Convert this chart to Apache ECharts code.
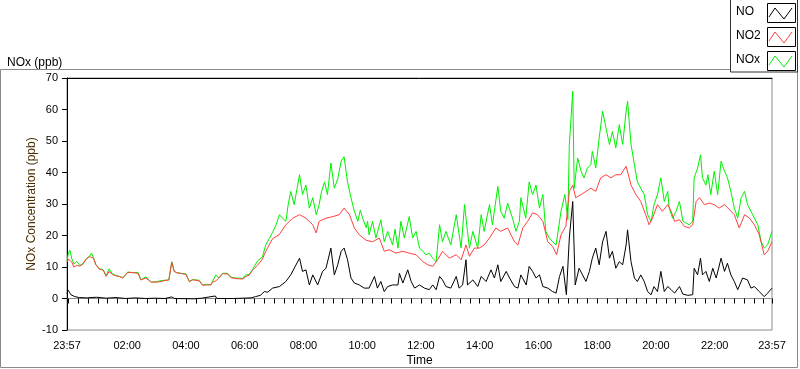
<!DOCTYPE html>
<html>
<head>
<meta charset="utf-8">
<script src="https://cdn.jsdelivr.net/npm/echarts@6/dist/echarts.min.js"></script>
<style>
html,body{margin:0;padding:0;background:#fff;}
#chart{width:800px;height:369px;}
</style>
</head>
<body>
<div id="chart"></div>
<script>
// Time is minutes elapsed since 23:57 (0 .. 1440)
const seriesNames = ['NO', 'NO2', 'NOx'];
const yTicks = [-10, 0, 10, 20, 30, 40, 50, 60, 70];
const xLabelMinutes = [0, 123, 243, 363, 483, 603, 723, 843, 963, 1083, 1203, 1323, 1440];

const noxT = [0,3,6,10,14,20,26,32,39,46,50,54,59,66,74,80,86,93,100,107,114,117,124,135,145,151,161,172,182,190,200,208,214,219,225,232,243,250,256,263,270,277,285,294,297,304,310,318,328,335,345,359,365,372,379,389,399,406,
413,420,427,434,440,447,452,457,464,470,475,481,488,495,502,509,515,520,526,532,539,546,553,560,566,573,580,587,594,599,604,611,
614,617,624,631,641,648,655,665,670,676,682,689,699,706,713,720,727,733,740,747,754,761,767,774,784,795,805,812,818,
822,829,839,846,852,863,869,880,886,893,900,910,917,924,927,937,944,951,958,965,972,978,985,992,999,1009,1017,1023,
1026,1033,1036,1043,1050,1056,1063,1070,1073,1080,1087,1094,1101,1108,1114,1121,1128,1135,1142,1145,1152,1159,1165,1172,1179,1186,1193,1199,1206,1213,1220,1227,
1230,1237,1244,1251,1258,1264,1271,1278,1281,1288,1294,1298,1305,1309,1315,1322,1329,1336,1343,1349,1356,1363,1370,1377,1384,1390,1397,1404,1411,1418,1424,1431,1440];
const noxV = [12,14.5,15.3,12.5,11,11.8,10.5,11,12.5,13.5,14.4,13,10.7,9.5,9.1,7.2,9.4,7.8,7.3,7,6.6,6.1,8.4,8.2,8.3,5.9,6.9,5.2,5.3,5.6,5.8,5.9,11.7,8.6,8.2,8,7.8,5.4,6,5.9,5.8,4.3,4.5,4.4,5.4,7.5,6.5,8,8,6.8,6.5,6.4,7.5,7.6,9.2,11.9,13.2,17,
19,21,23.4,26.6,25.5,24.5,30,34,29.8,35,39.3,33,36,28.7,32,26.6,29.8,34,37,33,43,35,38,43.6,45,37,32,27.7,24.5,28,25.5,22.5,
24.5,20.2,24.5,19.2,25,18,21.3,17,22,16,24.5,19.2,26,19.2,21.3,16,15,13.9,14.4,12.8,11.7,23.4,18,21.3,17,26.6,16,29.8,21.3,
16,21.3,16,26.6,21.3,29.8,23.4,35.6,27.7,25.5,30.3,25.5,21.3,24.5,32,25.5,37,33,36,28.7,33,21.3,19.2,18,17,27.7,33,25,
48.9,65.8,35,44.6,40.4,38.3,41.4,42.5,46.7,41.4,51,59.5,54,48.9,53,47.8,55.2,48.9,59.5,62.6,48.9,42.5,37,35,33,26.6,24.5,29.8,33,38.3,30.8,34,
28.7,25.5,27.7,30.8,24.5,24,23.4,24.5,38.3,41.4,45.6,38.3,36,39.3,33,40.4,33,43.6,40.4,38.3,34,28.7,25.5,32,34,29.8,27.7,25.5,23.4,18,16,17,21.3];

const no2T = [0,3,6,10,14,20,26,32,39,46,50,54,59,66,74,80,86,93,100,107,114,117,124,135,145,151,161,172,182,190,200,208,214,219,225,232,243,250,256,263,270,277,285,294,297,304,310,318,328,335,345,359,365,372,379,389,399,406,
420,433,447,461,475,488,502,509,515,529,543,556,566,577,587,597,611,
624,638,648,658,672,686,699,713,727,737,747,757,767,781,795,805,815,
822,832,842,852,863,876,886,900,914,921,931,941,951,961,972,982,992,1000,1009,1019,
1026,1033,1039,1050,1060,1070,1080,1090,1101,1111,1121,1131,1142,1152,1162,1172,1182,1189,1196,1206,1216,1227,
1234,1241,1251,1261,1271,1278,1285,1292,1302,1312,1322,1332,1343,1353,1363,1373,1384,1394,1404,1414,1424,1431,1440];
const no2V = [11.5,12.5,13,11.5,10,10.5,10.3,10.8,12.5,13.3,13.8,12.8,10.7,9.3,9,7,8.6,7.6,7.2,7,6.5,6.1,8.3,8.2,8,5.9,6.5,5.2,5.2,5.3,5.7,5.9,11.5,8.6,8.1,8,7.6,5.3,5.9,5.8,5.6,4.2,4.3,4.3,5.2,5.6,6.5,7.9,7.8,6.6,6.3,6.2,7,7.4,9,10.5,12.5,15,
19,20.2,23.4,25.5,26.6,25.5,23.4,20.8,24.5,25.5,26,26.6,28.7,26.6,22.4,20.2,18.5,
18,19.2,15,15.5,14.4,15,14.4,13.9,11.7,10.7,10.2,12.3,15,12.8,13.9,12.3,17,
13.4,16,16,17,19.2,22.4,21.3,22.4,18,17,22.4,24.5,27.2,26.6,24.5,18,16.5,13.9,20.2,23,
34,36,32,33,34,35,34,38.3,39.3,38.3,39.3,39.3,42,36,33,30.8,26.6,23.4,25.5,29.8,27.7,29.8,
27.7,24.5,25,22.9,22.4,23.4,30.8,32,29.8,30.3,29.8,28.7,29.8,28.2,26.6,22.4,26.6,25.5,23.4,20.2,13.9,15,18];

const noT = [0,2,5,8,12,16,25,40,60,80,100,120,140,160,180,200,214,220,260,275,303,306,340,360,376,385,395,403,410,
420,434,447,457,475,481,488,495,502,512,522,529,539,546,553,560,566,573,580,587,597,607,
611,617,628,634,641,648,655,665,676,679,686,696,703,710,720,730,740,747,754,761,767,774,784,795,801,808,815,818,
822,829,839,846,856,866,873,880,886,897,904,914,921,927,938,944,951,958,965,972,982,992,999,1006,1013,1020,
1026,1033,1038,1046,1053,1060,1067,1073,1080,1087,1094,1101,1108,1114,1121,1128,1135,1142,1145,1152,1159,1165,1172,1179,1186,1193,1199,1206,1213,1220,1227,
1234,1241,1251,1258,1268,1278,1281,1288,1294,1298,1305,1312,1319,1326,1336,1343,1349,1356,1363,1370,1380,1390,1397,1404,1414,1424,1431,1440];
const noV = [1.5,2.7,2,1.2,1.5,0.6,0.3,0.2,0.4,0.1,0.3,0,0.2,0,0.1,0,0.5,0,-0.1,0.1,0.8,0,0,0.1,0.2,0.6,1,2.2,2,
3.3,3.8,5.4,7.5,12.8,8.6,9.1,4.3,7.5,4.3,8.6,9.6,16,7.5,10.7,15,16,12.3,6.5,4.9,4.3,3.3,
3.8,3.3,7,3.3,5.4,2.2,3.8,4.3,4.3,8,4.9,9.1,5.4,3.3,4.3,3.3,2.8,4.3,2.8,7,5.9,3.8,3.3,7,3.3,4.3,12.3,4.3,
4.9,5.9,3.8,7,5.4,9.1,6.5,10.7,5.4,8.6,6.5,3.8,3.3,7.5,4.3,10.2,8.6,6.5,7.5,3.8,3.3,2.2,1.7,7,10.2,1.2,
19.2,30.8,4.3,9.6,7.5,5.4,8.6,12.8,16,10.7,18,21.3,12.8,15,9.6,11.7,10.7,17,21.8,11.7,6.5,5.4,7.5,5.4,2.2,1.2,3.8,2.2,8.6,2.2,3.8,
2.8,1.7,3.8,1.4,1,1.2,9.6,7.5,12.8,7.5,8.6,5.4,9.6,6.5,12.8,8.6,11.2,7.5,5.4,2.8,6.5,5.9,3.3,3.8,2.2,0.6,1.7,3.3];

const seriesColors = {NO: '#000000', NO2: '#ff4040', NOx: '#00f000'};

function pairs(t, v) { return t.map((x, i) => [x, v[i]]); }
function fmtTime(m) {
  if (m === 0 || m === 1440) return '23:57';
  const mm = (m - 3 + 1440) % 1440;
  const h = Math.floor(mm / 60), n = mm % 60;
  return String(h).padStart(2, '0') + ':' + String(n).padStart(2, '0');
}
const tickVals = [0];
for (let m = 3; m < 1440; m += 20) tickVals.push(m);
tickVals.push(1440);

const FONT = '"Liberation Sans", Arial, sans-serif';
const chart = echarts.init(document.getElementById('chart'), null, {renderer: 'canvas'});

const legendGraphics = [];
seriesNames.forEach((name, i) => {
  const y0 = 3 + i * 24;
  legendGraphics.push({
    type: 'text', left: 736, top: y0 + 3,
    style: {text: name, font: '12px ' + FONT, fill: '#000'}
  });
  legendGraphics.push({
    type: 'rect', shape: {x: 767.5, y: y0 + 0.5, width: 28, height: 19},
    style: {fill: '#fff', stroke: '#000', lineWidth: 1}
  });
  legendGraphics.push({
    type: 'polyline',
    shape: {points: [[769, y0 + 14], [775, y0 + 5], [784, y0 + 16], [792, y0 + 5]]},
    style: {stroke: seriesColors[name], lineWidth: 1, fill: null}
  });
});

const option = {
  animation: false,
  backgroundColor: '#fff',
  textStyle: {fontFamily: FONT},
  title: {
    text: 'NOx (ppb)', left: 2, top: 52,
    textStyle: {fontSize: 12, fontWeight: 'normal', color: '#000', fontFamily: FONT}
  },
  graphic: [
    {type: 'rect', z: -1, shape: {x: 0.5, y: 69.5, width: 797, height: 298},
     style: {fill: null, stroke: '#8a8a8a', lineWidth: 1}},
    {type: 'rect', z: 10, shape: {x: 730.5, y: -1, width: 67, height: 73},
     style: {fill: '#fff', stroke: '#333', lineWidth: 1}},
    ...legendGraphics.map(g => Object.assign({z: 11}, g))
  ],
  grid: {
    left: 67, top: 78, width: 705, height: 252,
    outerBoundsMode: 'none', containLabel: false,
    show: true, borderColor: '#8a8a8a', borderWidth: 1, backgroundColor: '#fff'
  },
  xAxis: [{
    type: 'value', min: 0, max: 1440, position: 'bottom',
    name: 'Time', nameLocation: 'middle', nameGap: 25, nameMoveOverlap: false,
    nameTextStyle: {fontSize: 12, color: '#000', fontFamily: FONT},
    axisLine: {show: true, lineStyle: {color: '#8a8a8a', width: 1}},
    axisTick: {show: true, inside: false, customValues: tickVals, length: 5, lineStyle: {color: '#000'}},
    axisLabel: {customValues: xLabelMinutes, formatter: fmtTime, fontSize: 11, color: '#000', margin: 10, fontFamily: FONT},
    splitLine: {show: false}
  }, {
    type: 'value', min: 0, max: 1440, position: 'top',
    axisLine: {show: true, lineStyle: {color: '#000', width: 1}},
    axisTick: {show: false}, axisLabel: {show: false}, splitLine: {show: false}
  }],
  yAxis: {
    type: 'value', min: yTicks[0], max: yTicks[yTicks.length - 1], interval: 10,
    name: 'NOx Concentration (ppb)', nameLocation: 'middle', nameGap: 29, nameMoveOverlap: false,
    nameTextStyle: {fontSize: 12, color: '#4a3000', fontFamily: FONT},
    axisLine: {show: true, lineStyle: {color: '#000', width: 1}},
    axisTick: {show: true, inside: false, length: 5, lineStyle: {color: '#000'}},
    axisLabel: {fontSize: 11, color: '#000', margin: 9, fontFamily: FONT},
    splitLine: {show: false}
  },
  series: [
    {name: 'NOx', type: 'line', data: pairs(noxT, noxV), showSymbol: false,
     lineStyle: {color: seriesColors.NOx, width: 1}, itemStyle: {color: seriesColors.NOx}},
    {name: 'NO2', type: 'line', data: pairs(no2T, no2V), showSymbol: false,
     lineStyle: {color: seriesColors.NO2, width: 1}, itemStyle: {color: seriesColors.NO2}},
    {name: 'NO', type: 'line', data: pairs(noT, noV), showSymbol: false,
     lineStyle: {color: seriesColors.NO, width: 1}, itemStyle: {color: seriesColors.NO}}
  ]
};
chart.setOption(option);
</script>
</body>
</html>
